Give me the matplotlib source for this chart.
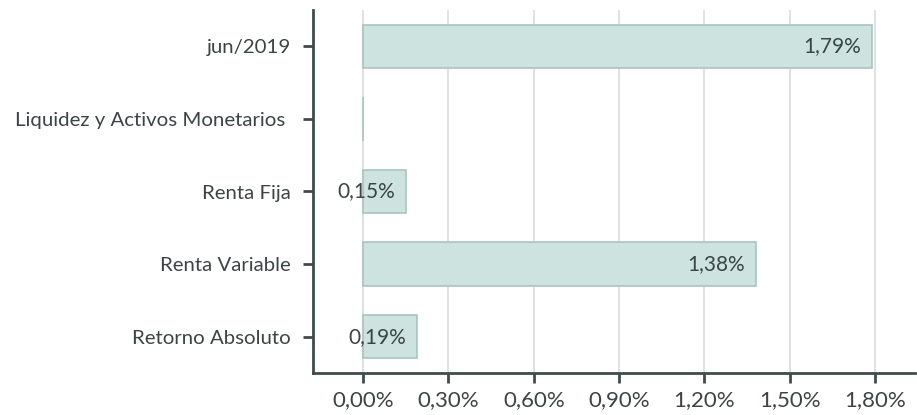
import matplotlib
matplotlib.use("Agg")
import matplotlib.pyplot as plt
from matplotlib.ticker import FuncFormatter

categories = ["jun/2019", "Liquidez y Activos Monetarios ", "Renta Fija", "Renta Variable", "Retorno Absoluto"]
values = [1.79, 0.001, 0.15, 1.38, 0.19]
labels = ["1,79%", "", "0,15%", "1,38%", "0,19%"]
xticks = [0.0, 0.3, 0.6, 0.9, 1.2, 1.5, 1.8]

plt.rcParams['font.family'] = ['Lato', 'DejaVu Sans']
text_color = "#3c4446"
spine_color = "#414b4b"

fig = plt.figure(figsize=(9.17, 4.15), dpi=100)
ax = fig.add_axes([313/917, 1 - 373/415, (915-313)/917, (373-10)/415])

ypos = list(range(len(categories)))
ax.barh(ypos, values, height=0.6, color="#cde3e0", edgecolor="#a9c3c0", linewidth=1.2, zorder=3)
for y, v, lab in zip(ypos, values, labels):
    if lab:
        ax.annotate(lab, xy=(v, y), xytext=(-11, 0), textcoords="offset pixels",
                    ha="right", va="center", fontsize=15, color=text_color, zorder=4)

ax.set_ylim(4.5, -0.5)
ax.set_xlim(-0.176, 1.94)
ax.set_yticks(ypos)
ax.set_yticklabels(categories)
ax.set_xticks(xticks)
ax.xaxis.set_major_formatter(FuncFormatter(lambda x, p: f"{x:.2f}".replace(".", ",") + "%"))
ax.grid(axis="x", color="#dcdcdc", linewidth=1.2, zorder=0)
ax.set_axisbelow(True)

for s in ["top", "right"]:
    ax.spines[s].set_visible(False)
for s in ["left", "bottom"]:
    ax.spines[s].set_color(spine_color)
    ax.spines[s].set_linewidth(2)

ax.tick_params(axis="both", colors=spine_color, width=2, length=7, labelcolor=text_color)
ax.tick_params(axis="y", pad=9, labelsize=14.7)
ax.tick_params(axis="x", pad=5, labelsize=16)

fig.savefig("out.png", dpi=100)
